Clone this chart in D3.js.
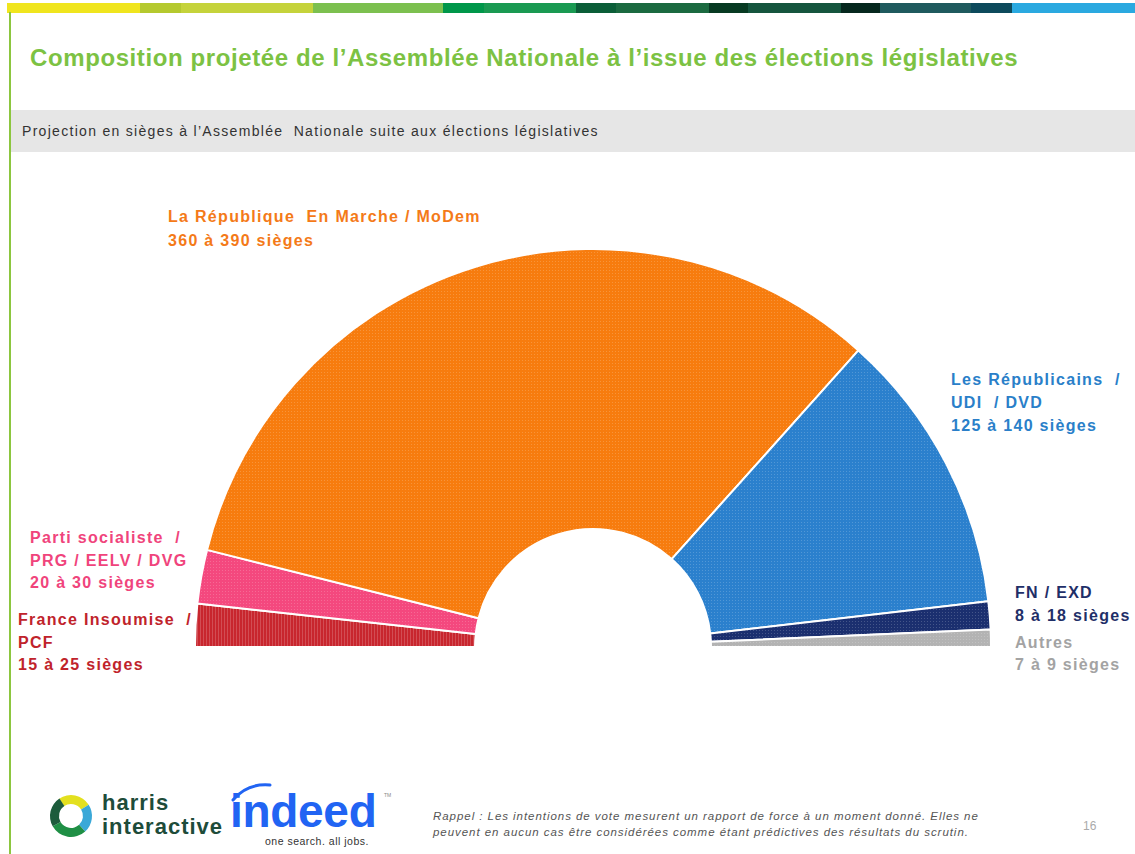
<!DOCTYPE html>
<html lang="fr">
<head>
<meta charset="utf-8">
<title>Composition projetée de l'Assemblée Nationale</title>
<script src="https://cdn.jsdelivr.net/npm/d3@7"></script>
<style>
  html, body { margin: 0; padding: 0; background: #fff; }
  svg { display: block; font-family: "Liberation Sans", Arial, sans-serif; }
</style>
</head>
<body>
<div id="chart"></div>
<script>
// partis, de gauche à droite de l'hémicycle
const parties = ['France Insoumise / PCF', 'Parti socialiste / PRG / EELV / DVG',
  'La République En Marche / MoDem', 'Les Républicains / UDI / DVD', 'FN / EXD', 'Autres'];
const seatsLow  = [15, 20, 360, 125, 8, 7];
const seatsHigh = [25, 30, 390, 140, 18, 9];
const colors = ['#c8262e', '#f4487e', '#f77c0e', '#2b80cd', '#1b2f6f', '#b3b3b3'];
const textColors = ['#c0232b', '#f0447c', '#f47a18', '#2a7fc9', '#1f2f68', '#a3a3a3'];
const labelLines = [
  ['France Insoumise  /', 'PCF', '15 à 25 sièges'],
  ['Parti socialiste  /', 'PRG / EELV / DVG', '20 à 30 sièges'],
  ['La République  En Marche / MoDem', '360 à 390 sièges'],
  ['Les Républicains  /', 'UDI  / DVD', '125 à 140 sièges'],
  ['FN / EXD', '8 à 18 sièges'],
  ['Autres', '7 à 9 sièges']
];
const stripeColors = ['#f0e51e', '#b5c92f', '#c5d33b', '#7cc04f', '#00974a', '#1a9a52', '#0b5e38',
  '#1b6a40', '#073a22', '#15553e', '#06281e', '#1f5a5e', '#0d4a5c', '#2aa9e0'];
const stripeEdges = [7, 140, 181, 313, 443, 484, 576, 616, 709, 748, 841, 880, 971, 1012, 1135];

const W = 1135, H = 854;
const svg = d3.select('#chart').append('svg').attr('width', W).attr('height', H);

// bandeau de couleurs en haut
svg.selectAll('rect.stripe').data(stripeColors).enter().append('rect')
  .attr('class', 'stripe')
  .attr('x', (d, i) => stripeEdges[i]).attr('y', 3)
  .attr('width', (d, i) => stripeEdges[i + 1] - stripeEdges[i]).attr('height', 10)
  .attr('fill', d => d);

// filet vert à gauche
svg.append('rect').attr('x', 9).attr('y', 12).attr('width', 2).attr('height', H - 12).attr('fill', '#8cc63f');

svg.append('text').attr('x', 30).attr('y', 66)
  .attr('font-size', 24).attr('font-weight', 'bold').attr('fill', '#7cc243')
  .attr('letter-spacing', 0.6)
  .text('Composition projetée de l’Assemblée Nationale à l’issue des élections législatives');

svg.append('rect').attr('x', 11).attr('y', 110).attr('width', W - 11).attr('height', 42).attr('fill', '#e6e6e6');
svg.append('text').attr('x', 22).attr('y', 136).attr('font-size', 14).attr('fill', '#333')
  .attr('letter-spacing', 1.3).attr('xml:space', 'preserve')
  .text('Projection en sièges à l’Assemblée  Nationale suite aux élections législatives');

// motifs pointillés
const defs = svg.append('defs');
colors.forEach((c, i) => {
  const p = defs.append('pattern').attr('id', 'pat' + i).attr('patternUnits', 'userSpaceOnUse')
    .attr('width', 3).attr('height', 3);
  p.append('rect').attr('width', 3).attr('height', 3).attr('fill', c);
  if (i === 0) {
    p.append('rect').attr('x', 0).attr('width', 1).attr('height', 3).attr('fill', '#fff').attr('opacity', 0.18);
  } else {
    p.append('rect').attr('x', 1).attr('y', 1).attr('width', 1).attr('height', 1).attr('fill', '#fff').attr('opacity', 0.18);
  }
});

// hémicycle
const cx = 593, cy = 647, rOuter = 398, rInner = 118;
const mid = seatsLow.map((v, i) => (v + seatsHigh[i]) / 2);
const pie = d3.pie().sort(null).startAngle(-Math.PI / 2).endAngle(Math.PI / 2);
const arc = d3.arc().innerRadius(rInner).outerRadius(rOuter);

const g = svg.append('g').attr('transform', `translate(${cx},${cy})`);
g.selectAll('path').data(pie(mid)).enter().append('path')
  .attr('d', arc)
  .attr('fill', (d, i) => `url(#pat${i})`)
  .attr('stroke', '#fff').attr('stroke-width', 2).attr('stroke-linejoin', 'round');

// étiquettes
const labelPos = [[18, 625], [30, 543], [168, 222], [951, 385], [1015, 598], [1015, 648]];
const lineGap = [22.5, 22.5, 24, 23, 23, 22];
labelLines.forEach((lines, i) => {
  const t = svg.append('text').attr('x', labelPos[i][0]).attr('y', labelPos[i][1])
    .attr('font-size', 16).attr('font-weight', 'bold').attr('fill', textColors[i])
    .attr('letter-spacing', 1.3).attr('xml:space', 'preserve');
  lines.forEach((l, j) => {
    t.append('tspan').attr('x', labelPos[i][0]).attr('y', labelPos[i][1] + j * lineGap[i]).text(l);
  });
});

// logo harris interactive
const ring = svg.append('g').attr('transform', 'translate(71,816)');
const ringArc = d3.arc().innerRadius(12).outerRadius(21);
[['#e3e01f', -0.6, 1.0], ['#3aa8d8', 1.0, 2.4], ['#1f8f45', 2.4, 4.2], ['#1d5c3c', 4.2, 5.7]].forEach(s => {
  ring.append('path').attr('d', ringArc({ startAngle: s[1], endAngle: s[2] })).attr('fill', s[0]);
});
svg.append('text').attr('x', 102).attr('y', 810).attr('font-size', 22).attr('font-weight', 'bold')
  .attr('letter-spacing', 1).attr('fill', '#1e4c3a').text('harris');
svg.append('text').attr('x', 102).attr('y', 834).attr('font-size', 22).attr('font-weight', 'bold')
  .attr('letter-spacing', 1).attr('fill', '#1e4c3a').text('interactive');

// logo indeed
svg.append('text').attr('x', 230).attr('y', 827).attr('font-size', 46).attr('font-weight', 'bold')
  .attr('fill', '#2164f3').attr('letter-spacing', -0.3).text('indeed');
svg.append('path').attr('d', 'M233,800 Q247,783 270,785').attr('fill', 'none')
  .attr('stroke', '#2164f3').attr('stroke-width', 3).attr('stroke-linecap', 'round');
svg.append('text').attr('x', 384).attr('y', 797).attr('font-size', 5).attr('fill', '#888').text('TM');
svg.append('text').attr('x', 265).attr('y', 845).attr('font-size', 10.5).attr('fill', '#333')
  .attr('letter-spacing', 0.5).text('one search. all jobs.');

// note
svg.append('text').attr('x', 433).attr('y', 820).attr('font-size', 11.5).attr('font-style', 'italic')
  .attr('letter-spacing', 0.95).attr('fill', '#555')
  .text('Rappel : Les intentions de vote mesurent un rapport de force à un moment donné. Elles ne');
svg.append('text').attr('x', 433).attr('y', 836).attr('font-size', 11.5).attr('font-style', 'italic')
  .attr('letter-spacing', 0.95).attr('fill', '#555')
  .text('peuvent en aucun cas être considérées comme étant prédictives des résultats du scrutin.');
svg.append('text').attr('x', 1083).attr('y', 830).attr('font-size', 12).attr('fill', '#aaa').text('16');
</script>
</body>
</html>
